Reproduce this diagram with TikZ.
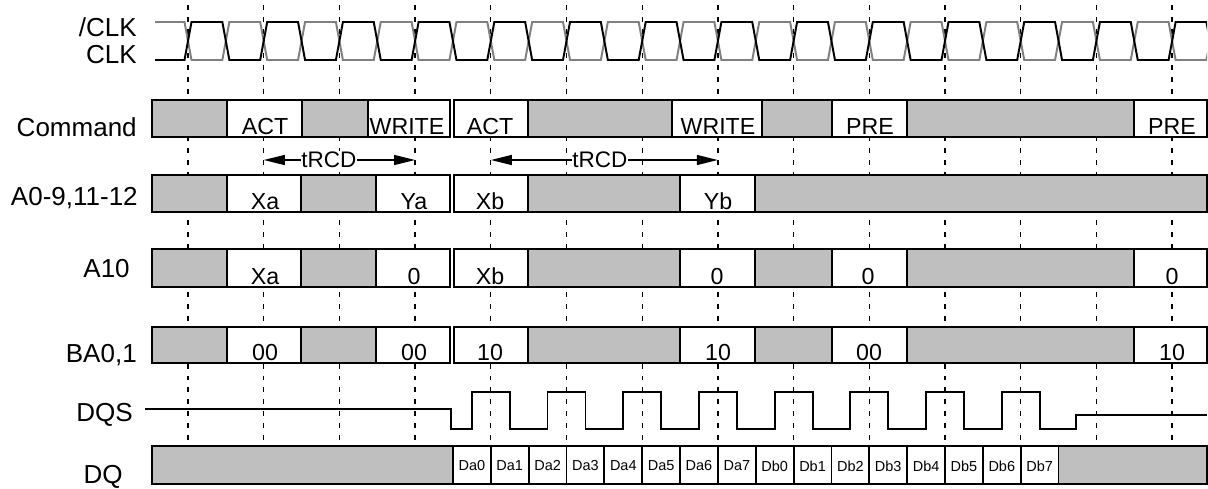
\documentclass[tikz,border=0pt]{standalone}
\usepackage{fontspec}
\setmainfont{Liberation Sans}
\usetikzlibrary{arrows.meta}

\begin{document}
\begin{tikzpicture}[
    x=0.025cm,y=-0.025cm,
    clkp/.style={line width=1.4pt,black},
    clkn/.style={line width=1.4pt,black!50},
    gridline/.style={line width=0.9pt,dash pattern=on 3.5pt off 5pt},
    busy/.style={draw=black,line width=1.3pt,fill=black!25},
    valid/.style={draw=black,line width=1.3pt,fill=white},
    lbl/.style={font=\fontsize{18.5}{20}\selectfont,anchor=base east,inner sep=0pt},
    val/.style={font=\fontsize{16.5}{18}\selectfont,anchor=base,inner sep=0pt},
    dat/.style={font=\fontsize{10.3}{12}\selectfont,inner sep=0pt},
    span/.style={{Triangle[length=15pt,width=7pt]}-{Triangle[length=15pt,width=7pt]},line width=1.3pt}
]
\useasboundingbox (0,0) rectangle (1208,488);

% clock edges
\foreach \k in {0,...,13}
  \draw[gridline] ({188+75.7*\k},5) -- ({188+75.7*\k},446);

% /CLK and CLK
\begin{scope}
\clip (150,0) rectangle (1207,80);
\draw[clkn] (155,22) \foreach \k in {0,...,13} {
  -- ({184.5+75.7*\k},22) -- ({191.5+75.7*\k},60)
  -- ({222.35+75.7*\k},60) -- ({229.35+75.7*\k},22) } -- (1215,22);
\draw[clkp] (155,60) \foreach \k in {0,...,13} {
  -- ({184.5+75.7*\k},60) -- ({191.5+75.7*\k},22)
  -- ({222.35+75.7*\k},22) -- ({229.35+75.7*\k},60) } -- (1215,60);
\end{scope}

% signal names
\node[lbl] (nclk) at (137,36) {/CLK};
\node[lbl] (clk) at (137,63) {CLK};
\node[lbl] (cmd) at (137,136.5) {Command};
\node[lbl] (addr) at (138,205) {A0-9,11-12};
\node[lbl] (a10) at (130,277) {A10};
\node[lbl] (ba) at (137,362) {BA0,1};
\node[lbl] (dqs) at (133,421) {DQS};
\node[lbl] (dq) at (123,483) {DQ};

% Command
\foreach \a/\b in {152/227,302/368,528/672,762/832,907/1134}
  \draw[busy] (\a,100) rectangle (\b,137);
\foreach \a/\b/\t/\c [count=\i] in {227/302/ACT/265,368/450/WRITE/407,454/528/ACT/490,
    672/762/WRITE/718,832/907/PRE/870,1134/1207/PRE/1172} {
  \draw[valid] (\a,100) rectangle (\b,137);
  \node[val] (cmd\i) at (\c,134.5) {\t};
}

% tRCD
\coordinate (rcdAl) at (263.7,160);
\coordinate (rcdAr) at (415.1,160);
\coordinate (rcdBl) at (490.8,160);
\coordinate (rcdBr) at (717.9,160);
\draw[span] (rcdAl) -- node[pos=0.43,fill=white,inner sep=0.5pt,font=\fontsize{16}{18}\selectfont] (rcdA) {tRCD} (rcdAr);
\draw[span] (rcdBl) -- node[pos=0.48,fill=white,inner sep=0.5pt,font=\fontsize{16}{18}\selectfont] (rcdB) {tRCD} (rcdBr);

% A0-9,11-12
\foreach \a/\b in {152/227,301/376,528/680,755/1207}
  \draw[busy] (\a,175) rectangle (\b,212);
\foreach \a/\b/\t/\c [count=\i] in {227/301/Xa/265,376/450/Ya/414,454/528/Xb/490,680/755/Yb/718} {
  \draw[valid] (\a,175) rectangle (\b,212);
  \node[val] (addr\i) at (\c,209.5) {\t};
}

% A10
\foreach \a/\b in {152/227,301/376,528/680,755/832,907/1134}
  \draw[busy] (\a,249) rectangle (\b,287);
\foreach \a/\b/\t/\c [count=\i] in {227/301/Xa/265,376/450/0/414,454/528/Xb/490,
    680/755/0/717,832/907/0/868,1134/1207/0/1172} {
  \draw[valid] (\a,249) rectangle (\b,287);
  \node[val] (a10\i) at (\c,284.5) {\t};
}

% BA0,1
\foreach \a/\b in {152/227,301/376,528/680,755/832,907/1134}
  \draw[busy] (\a,327) rectangle (\b,363);
\foreach \a/\b/\t/\c [count=\i] in {227/301/00/265,376/450/00/414,454/528/10/490,
    680/755/10/718,832/907/00/869,1134/1207/10/1172} {
  \draw[valid] (\a,327) rectangle (\b,363);
  \node[val] (ba\i) at (\c,360.5) {\t};
}

% DQS
\draw[clkp] (145,409) -- (451,409) -- (451,429)
  \foreach \k in {4,...,11} {
  -- ({169+75.7*\k},429) -- ({169+75.7*\k},392) -- ({207+75.7*\k},392) -- ({207+75.7*\k},429) }
  -- (1076,429) -- (1076,415) -- (1207,415);

% DQ
\draw[busy] (152,446) rectangle (452.95,484);
\draw[busy] (1058.55,446) rectangle (1207,484);
\foreach \t [count=\i from 0] in {Da0,Da1,Da2,Da3,Da4,Da5,Da6,Da7,Db0,Db1,Db2,Db3,Db4,Db5,Db6,Db7} {
  \draw[valid] ({452.95+37.85*\i},446) rectangle ({490.8+37.85*\i},484);
  \node[dat] (dq\i) at ({471.9+37.85*\i},466) {\t};
}
\end{tikzpicture}
\end{document}
